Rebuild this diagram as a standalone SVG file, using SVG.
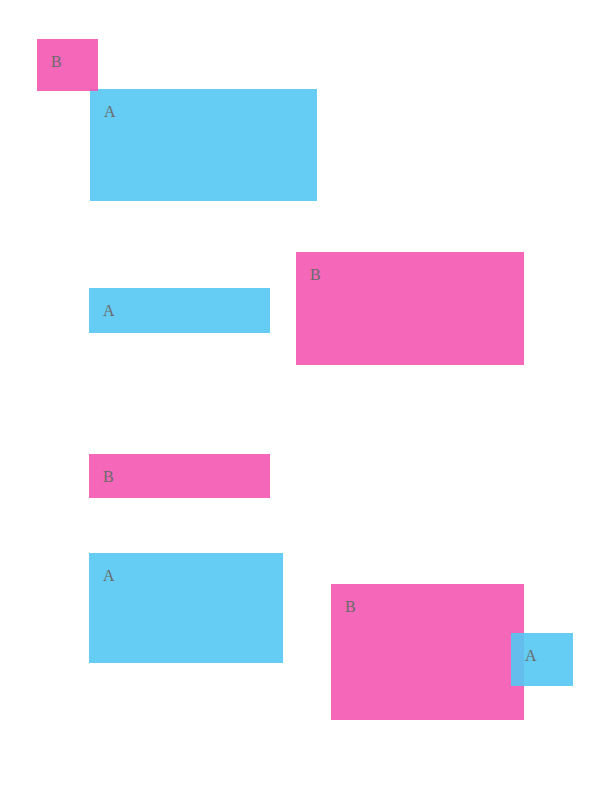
<svg xmlns="http://www.w3.org/2000/svg" width="612" height="792" viewBox="0 0 612 792">
<style>
.a{fill:rgb(84,199,243);fill-opacity:0.9}
.b{fill:rgb(243,87,177);fill-opacity:0.9}
text{font-family:"Liberation Serif","DejaVu Serif",serif;font-size:16px;fill:#6b6b6b}
</style>
<rect width="612" height="792" fill="#fff"/>
<g id="nA1"><rect class="a" x="90" y="89" width="227" height="112"/><text x="104" y="117">A</text></g>
<g id="nB1"><rect class="b" x="37" y="39" width="61" height="52"/><text x="51" y="67">B</text></g>
<g id="nA2"><rect class="a" x="89" y="288" width="181" height="45"/><text x="103" y="316">A</text></g>
<g id="nB2"><rect class="b" x="296" y="252" width="228" height="113"/><text x="310" y="280">B</text></g>
<g id="nB3"><rect class="b" x="89" y="454" width="181" height="44"/><text x="103" y="482">B</text></g>
<g id="nA3"><rect class="a" x="89" y="553" width="194" height="110"/><text x="103" y="581">A</text></g>
<g id="nB4"><rect class="b" x="331" y="584" width="193" height="136"/><text x="345" y="612">B</text></g>
<g id="nA4"><rect class="a" x="511" y="633" width="62" height="53"/><text x="525" y="661">A</text></g>
<g id="connectors"></g>
</svg>
